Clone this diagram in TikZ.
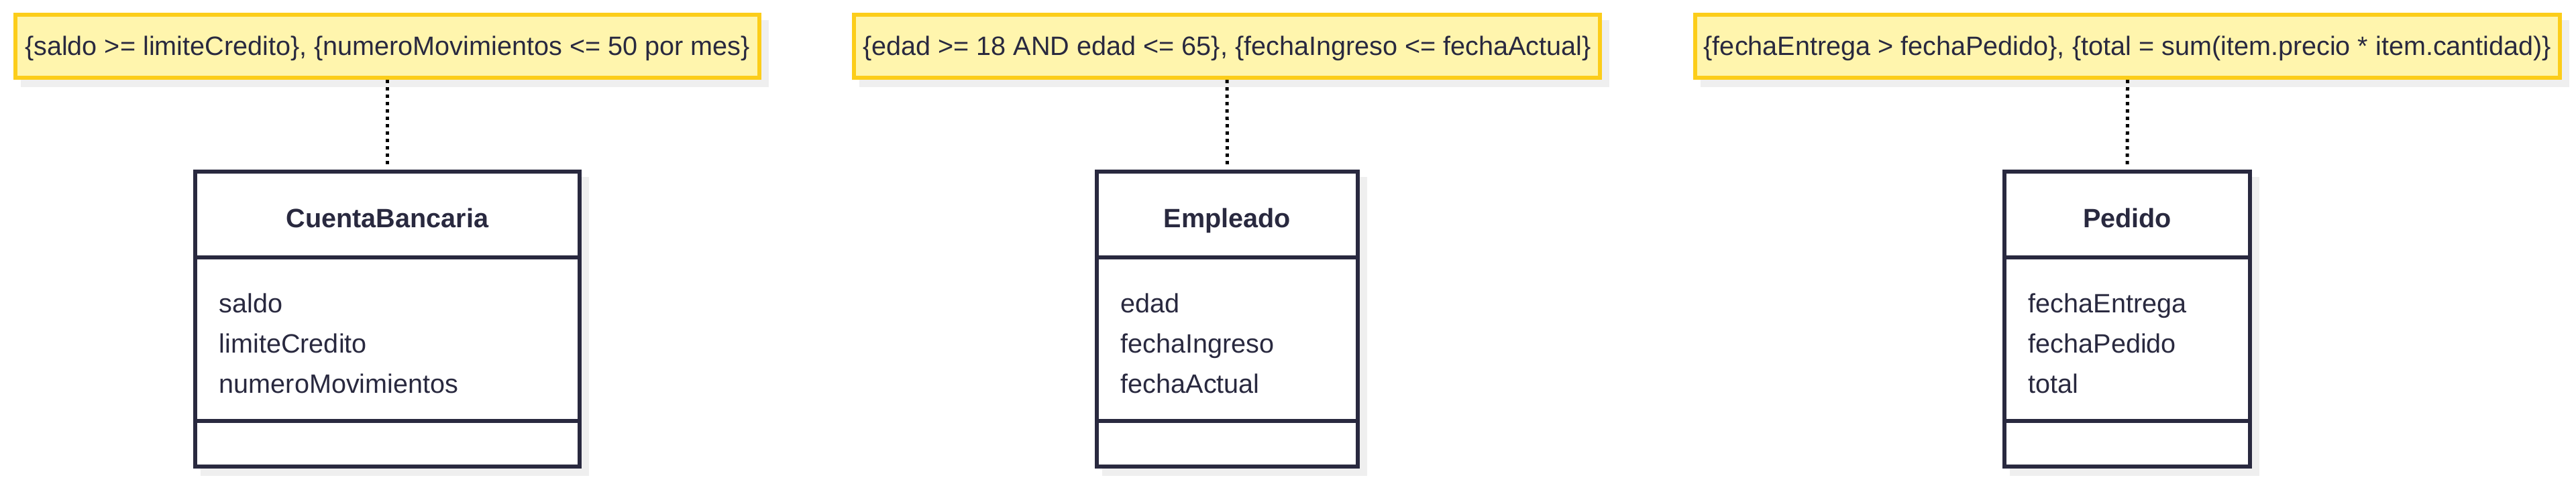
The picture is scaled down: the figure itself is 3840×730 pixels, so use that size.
\documentclass[tikz,border=0pt]{standalone}
\usepackage{fontspec}
\setmainfont{Liberation Sans}
\usetikzlibrary{backgrounds}
\definecolor{notefill}{HTML}{FFF5AD}
\definecolor{noteline}{HTML}{FCCD1A}
\definecolor{classline}{HTML}{29293F}
\definecolor{shadowgrey}{HTML}{EFEFEF}

\begin{document}
\begin{tikzpicture}
[
    x=0.25pt, y=-0.25pt,
    every node/.style={font=\fontsize{9.9pt}{12pt}\selectfont, text=classline},
    nota/.style={draw=noteline, fill=notefill, line width=1.5pt, inner sep=0pt, minimum height=23.5pt, text height=8pt, text depth=1.5pt},
    clase/.style={draw=classline, fill=white, line width=1.5pt, inner sep=0pt, minimum height=110pt},
    titulo/.style={anchor=base, font=\fontsize{9.9pt}{12pt}\selectfont\bfseries},
    atributo/.style={anchor=base west, inner sep=0pt},
    separador/.style={draw=classline, line width=1.5pt},
    enlace/.style={line width=1.25pt, dash pattern=on 1.25pt off 1.5pt, shorten >=1.75pt},
]
\useasboundingbox (0,0) rectangle (3840,730);

% notas
\node [nota, minimum width=277.25pt] (notaCuenta) at (577.5,69)
{\{saldo >= limiteCredito\}, \{numeroMovimientos <= 50 por mes\}};
\node [nota, minimum width=278pt] (notaEmpleado) at (1829,69)
{\{edad >= 18 AND edad <= 65\}, \{fechaIngreso <= fechaActual\}};
\node [nota, minimum width=322.25pt] (notaPedido) at (3171.5,69)
{\{fechaEntrega > fechaPedido\}, \{total = sum(item.precio * item.cantidad)\}};

% clases
\node [clase, minimum width=143.25pt] (cuenta) at (577.5,476) {};
\node [clase, minimum width=97.25pt] (empleado) at (1829.5,476) {};
\node [clase, minimum width=91.5pt] (pedido) at (3171,476) {};

\draw [separador] (cuenta.west |- 0,384) -- (cuenta.east |- 0,384);
\draw [separador] (cuenta.west |- 0,628) -- (cuenta.east |- 0,628);
\draw [separador] (empleado.west |- 0,384) -- (empleado.east |- 0,384);
\draw [separador] (empleado.west |- 0,628) -- (empleado.east |- 0,628);
\draw [separador] (pedido.west |- 0,384) -- (pedido.east |- 0,384);
\draw [separador] (pedido.west |- 0,628) -- (pedido.east |- 0,628);

\node [titulo] (tituloCuenta) at (577.5,339) {CuentaBancaria};
\node [atributo] (saldo) at (326,466) {saldo};
\node [atributo] (limite) at (326,526) {limiteCredito};
\node [atributo] (movimientos) at (326,586) {numeroMovimientos};

\node [titulo] (tituloEmpleado) at (1829.5,339) {Empleado};
\node [atributo] (edad) at (1670,466) {edad};
\node [atributo] (ingreso) at (1670,526) {fechaIngreso};
\node [atributo] (actual) at (1670,586) {fechaActual};

\node [titulo] (tituloPedido) at (3171,339) {Pedido};
\node [atributo] (entrega) at (3023,466) {fechaEntrega};
\node [atributo] (fechaPedido) at (3023,526) {fechaPedido};
\node [atributo] (total) at (3023,586) {total};

% enlaces
\draw [enlace] (notaCuenta.south) -- (cuenta.north);
\draw [enlace] (notaEmpleado.south) -- (empleado.north);
\draw [enlace] (notaPedido.south) -- (pedido.north);

% sombras
\begin{scope}[on background layer]
\fill [shadowgrey] ([shift={(11,11)}]notaCuenta.south west) rectangle ([shift={(11,11)}]notaCuenta.north east);
\fill [shadowgrey] ([shift={(11,11)}]notaEmpleado.south west) rectangle ([shift={(11,11)}]notaEmpleado.north east);
\fill [shadowgrey] ([shift={(11,11)}]notaPedido.south west) rectangle ([shift={(11,11)}]notaPedido.north east);
\fill [shadowgrey] ([shift={(11,11)}]cuenta.south west) rectangle ([shift={(11,11)}]cuenta.north east);
\fill [shadowgrey] ([shift={(11,11)}]empleado.south west) rectangle ([shift={(11,11)}]empleado.north east);
\fill [shadowgrey] ([shift={(11,11)}]pedido.south west) rectangle ([shift={(11,11)}]pedido.north east);
\end{scope}
\end{tikzpicture}
\end{document}
